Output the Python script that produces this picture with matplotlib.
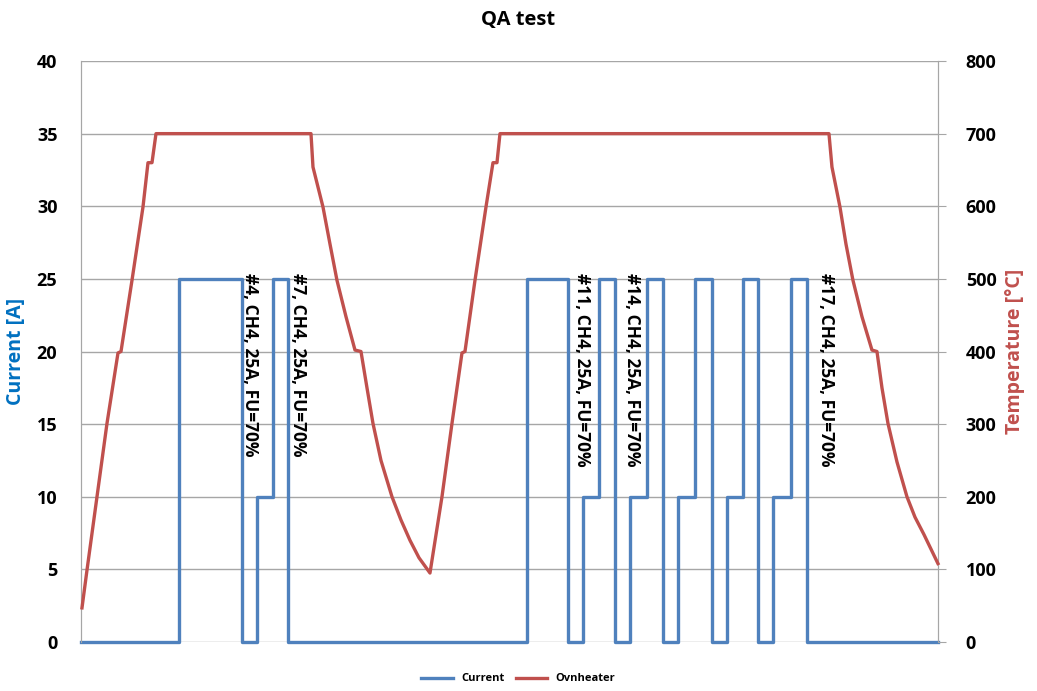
import matplotlib
matplotlib.use("Agg")
import matplotlib.pyplot as plt

plt.rcParams['font.family'] = ['Open Sans', 'DejaVu Sans']

# time axis has no labels, values are in sample-index units read off the plot
cur_t = [0, 98, 161, 176, 192, 207, 446, 487, 502, 518, 534, 549, 566, 582,
         597, 614, 631, 646, 662, 677, 692, 710, 726, 857]
cur_a = [0, 25, 0, 10, 25, 0, 25, 0, 10, 25, 0, 10, 25, 0,
         10, 25, 0, 10, 25, 0, 10, 25, 0, 0]

temp_t = [1, 6, 16, 26, 37, 40, 51, 62, 67, 71, 75, 230, 232, 242, 249, 256, 265, 274, 280,
          286, 292, 300, 311, 320, 329, 338, 349, 361, 371, 381, 384, 394, 405, 412, 416,
          419, 748, 751, 759, 765, 772, 781, 791, 796, 801, 807, 816, 826, 834, 843, 857]
temp_c = [47, 99, 200, 301, 398, 400, 498, 599, 660, 660, 700, 700, 654, 599, 548, 498, 448, 402, 400,
          350, 301, 250, 200, 168, 140, 116, 95, 200, 301, 398, 400, 498, 599, 660, 660,
          700, 700, 654, 599, 548, 498, 448, 402, 400, 350, 301, 248, 200, 172, 148, 108]

label_t = [169, 217, 501, 551, 745]
label_txt = ["#4, CH4, 25A, FU=70%", "#7, CH4, 25A, FU=70%", "#11, CH4, 25A, FU=70%",
             "#14, CH4, 25A, FU=70%", "#17, CH4, 25A, FU=70%"]

blue = '#4F81BD'
red = '#C0504D'
grid = '#A6A6A6'

fig = plt.figure(figsize=(10.37, 6.91), dpi=100)
ax = fig.add_axes([0.0781, 0.0709, 0.8264, 0.8408])
ax2 = ax.twinx()

l1, = ax.plot(cur_t, cur_a, drawstyle='steps-post', color=blue, lw=2.4,
              solid_joinstyle='round', label='Current', zorder=3, clip_on=False)
l2, = ax2.plot(temp_t, temp_c, color=red, lw=2.4, label='Ovnheater', zorder=3,
               clip_on=False, solid_joinstyle='round')

ax.set_xlim(0, 857)
ax.set_ylim(0, 40)
ax2.set_ylim(0, 800)
ax.set_yticks(range(0, 41, 5))
ax2.set_yticks(range(0, 801, 100))
ax.set_xticks([])

ax.yaxis.grid(True, color=grid, lw=1)
ax.set_axisbelow(True)
for a in (ax, ax2):
    for s in ('top', 'bottom'):
        a.spines[s].set_visible(False)
    a.spines['left'].set_color(grid)
    a.spines['right'].set_color(grid)

ax.tick_params(axis='y', length=0, pad=17, labelsize=13)
ax2.tick_params(axis='y', length=6, color=grid, pad=14, labelsize=13)
for lab in ax.get_yticklabels() + ax2.get_yticklabels():
    lab.set_fontweight('bold')

ax.set_ylabel('Current [A]', color='#0070C0', fontsize=14, fontweight='bold', labelpad=8)
ax2.set_ylabel('Temperature [°C]', color=red, fontsize=14, fontweight='bold', labelpad=6)
fig.suptitle('QA test', fontsize=14.5, fontweight='bold', y=0.985)

for t, s in zip(label_t, label_txt):
    ax.text(t, 25.4, s, rotation=270, ha='center', va='top', fontsize=12.5,
            fontweight='bold', zorder=5)

leg = fig.legend(handles=[l1, l2], loc='lower center', bbox_to_anchor=(0.5, -0.005),
                 ncol=2, frameon=False, handlelength=2.8, columnspacing=1.0,
                 prop={'size': 8, 'weight': 'bold'})

fig.savefig('out.png', dpi=100)
